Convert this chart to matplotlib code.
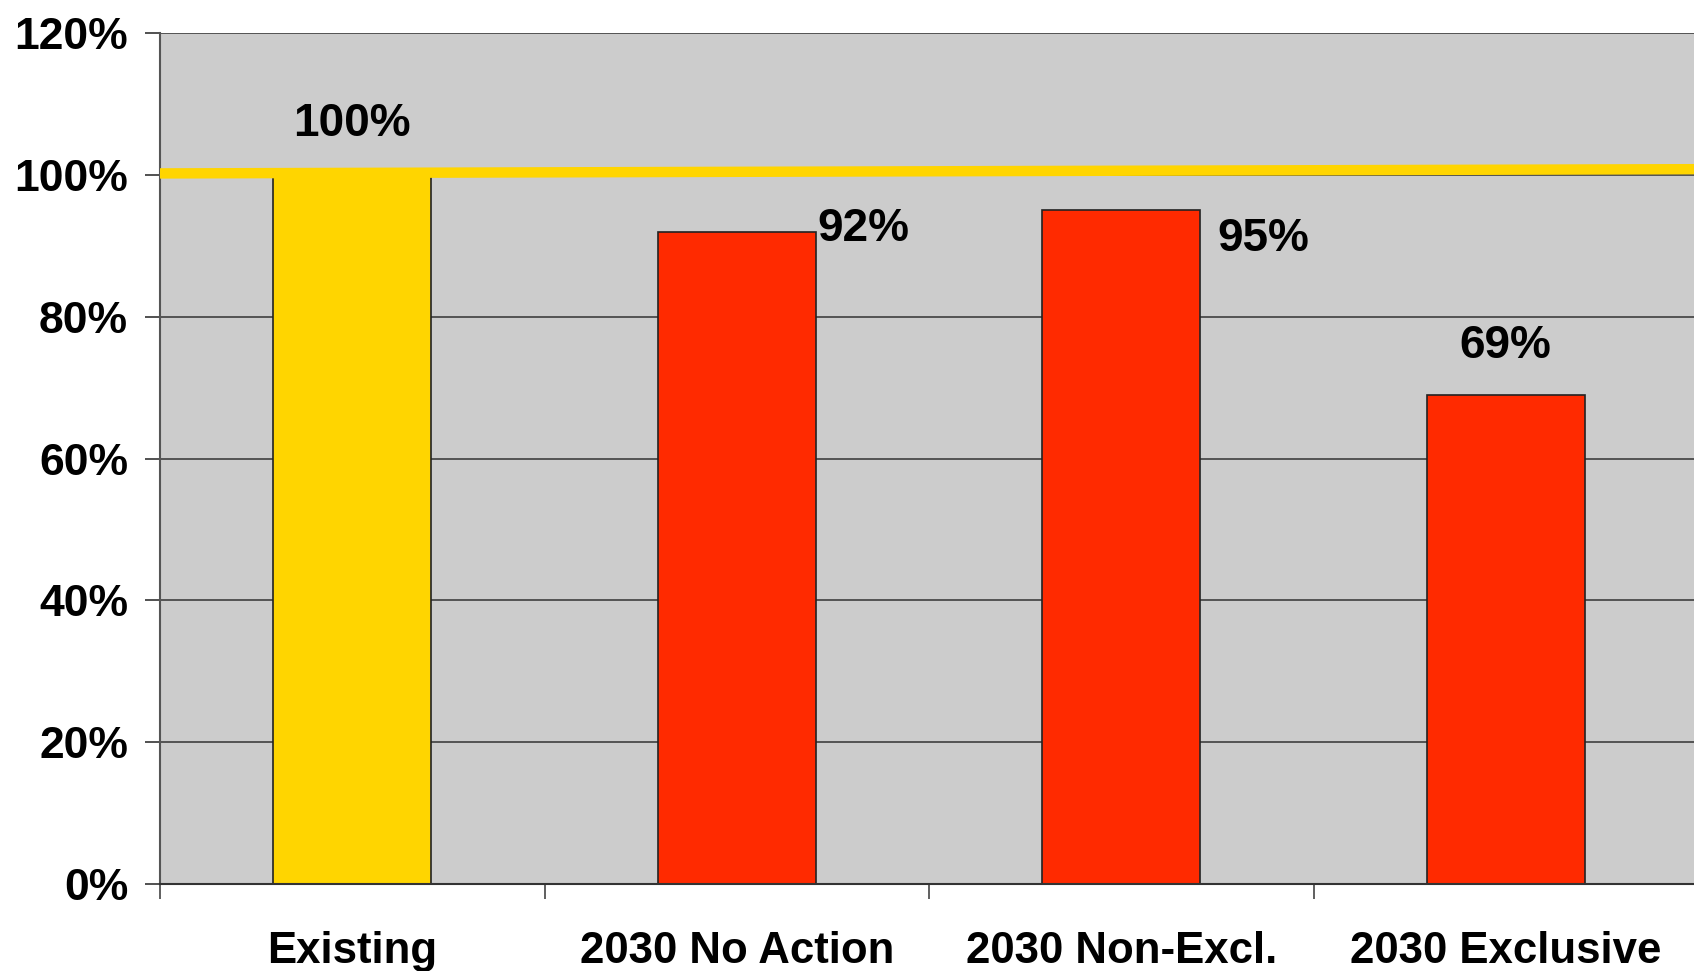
import matplotlib
matplotlib.use("Agg")
import matplotlib.pyplot as plt
from matplotlib.ticker import FixedLocator

plt.rcParams['font.family'] = ['Liberation Sans', 'DejaVu Sans']
plt.rcParams['font.weight'] = 'bold'

categories = ["Existing", "2030 No Action", "2030 Non-Excl.", "2030 Exclusive"]
values = [100, 92, 95, 69]
value_labels = ["100%", "92%", "95%", "69%"]
bar_colors = ["#FFD500", "#FF2A00", "#FF2A00", "#FF2A00"]
yticks = [0, 20, 40, 60, 80, 100, 120]
ytick_labels = ["0%", "20%", "40%", "60%", "80%", "100%", "120%"]
ref_line_x = [-0.5, 3.5]
ref_line_y = [100.2, 100.8]

fig = plt.figure(figsize=(16.94, 9.71), dpi=100)
ax = fig.add_axes([160/1694, 1-884/971, 1538/1694, (884-33)/971])
ax.set_facecolor("#CCCCCC")

x = list(range(len(categories)))
bars = ax.bar(x, values, width=0.41, color=bar_colors, edgecolor="#222222", linewidth=1.2, zorder=2)
ax.plot(ref_line_x, ref_line_y, color="#FFD500", linewidth=7.5, solid_capstyle="butt", zorder=3)

ax.set_xlim(-0.5, 3.5)
ax.set_ylim(0, 120)
ax.yaxis.set_major_locator(FixedLocator(yticks))
ax.set_yticklabels(ytick_labels, fontsize=32, fontweight='bold')
ax.grid(axis='y', color="#333333", linewidth=1.1, zorder=1)
ax.set_axisbelow(True)

ax.set_xticks(x)
ax.set_xticklabels(categories, fontsize=31.5, fontweight='bold')
ax.tick_params(axis='x', which='major', length=0, pad=34)
ax.xaxis.set_minor_locator(FixedLocator([-0.5, 0.5, 1.5, 2.5, 3.5]))
ax.tick_params(axis='x', which='minor', length=11, width=1.2, color="#444444")
ax.tick_params(axis='y', length=11, width=1.2, color="#333333", pad=12)

for s in ['top', 'right']:
    ax.spines[s].set_visible(False)
ax.spines['left'].set_color("#555555")
ax.spines['left'].set_linewidth(1.5)
ax.spines['bottom'].set_color("#333333")
ax.spines['bottom'].set_linewidth(1.5)

# value labels
ax.text(x[0], 107.2, value_labels[0], ha='center', va='center', fontsize=33, fontweight='bold', zorder=4)
ax.text(x[1] + 0.21, 92.4, value_labels[1], ha='left', va='center', fontsize=33, fontweight='bold', zorder=4)
ax.text(x[2] + 0.25, 91.0, value_labels[2], ha='left', va='center', fontsize=33, fontweight='bold', zorder=4)
ax.text(x[3], 75.9, value_labels[3], ha='center', va='center', fontsize=33, fontweight='bold', zorder=4)

fig.savefig("out.png", dpi=100)
